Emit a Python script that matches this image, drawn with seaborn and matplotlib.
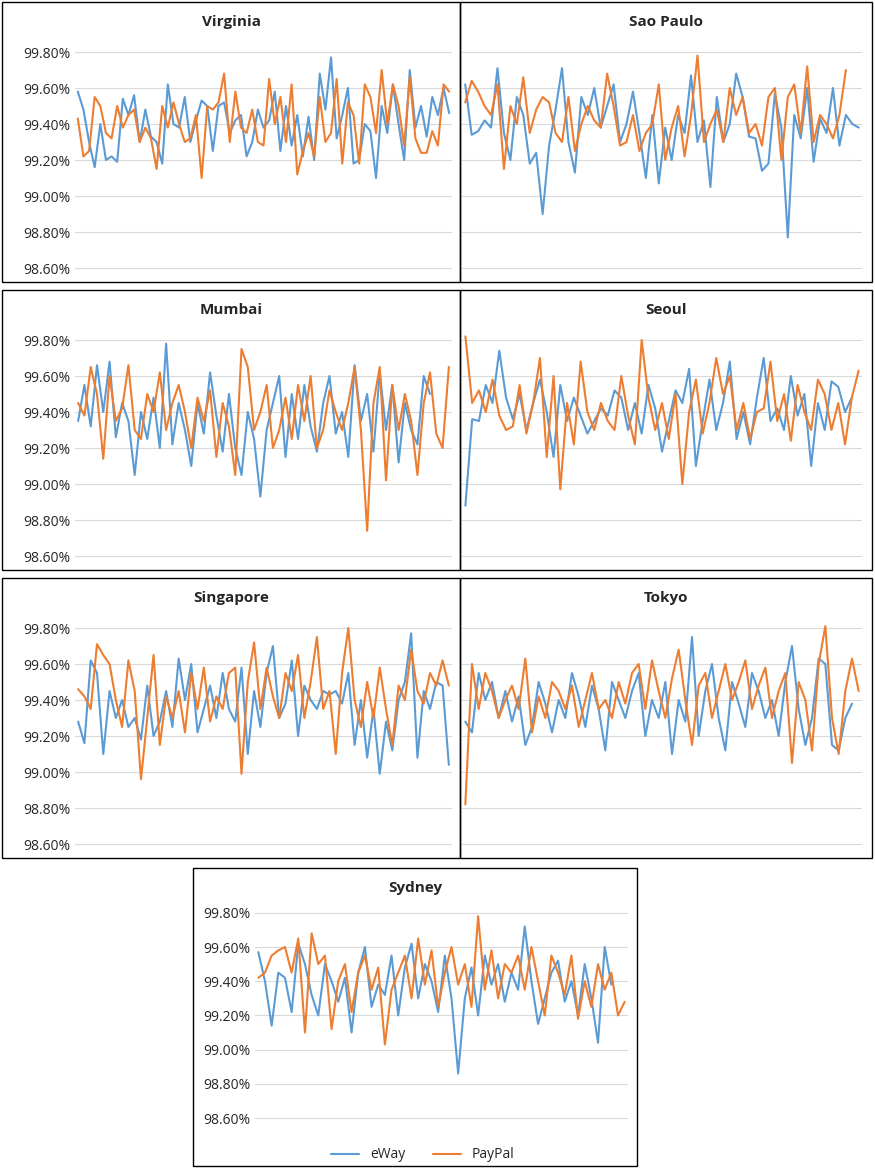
import pandas as pd
import seaborn as sns
import matplotlib.pyplot as plt
from matplotlib.patches import Rectangle
from matplotlib.ticker import FuncFormatter

regions = ["Virginia", "Sao Paulo", "Mumbai", "Seoul", "Singapore", "Tokyo", "Sydney"]
series_names = ["eWay", "PayPal"]
yticks = [98.6, 98.8, 99.0, 99.2, 99.4, 99.6, 99.8]

eway = {
    "Virginia": [99.58, 99.48, 99.30, 99.16, 99.40, 99.20, 99.22, 99.19, 99.54, 99.45, 99.56, 99.30, 99.48, 99.33, 99.30,
                 99.18, 99.62, 99.40, 99.38, 99.55, 99.30, 99.42, 99.53, 99.50, 99.25, 99.50, 99.52, 99.35, 99.42, 99.45,
                 99.22, 99.30, 99.48, 99.38, 99.42, 99.58, 99.25, 99.50, 99.28, 99.45, 99.22, 99.44, 99.20, 99.68, 99.48,
                 99.77, 99.32, 99.45, 99.60, 99.18, 99.20, 99.40, 99.36, 99.10, 99.50, 99.35, 99.62, 99.40, 99.20, 99.70,
                 99.38, 99.50, 99.33, 99.55, 99.45, 99.60, 99.46],
    "Sao Paulo": [99.62, 99.34, 99.36, 99.42, 99.38, 99.71, 99.35, 99.20, 99.55, 99.45, 99.18, 99.24, 98.90, 99.28, 99.48,
                  99.71, 99.30, 99.13, 99.55, 99.45, 99.60, 99.38, 99.50, 99.62, 99.30, 99.40, 99.58, 99.35, 99.10, 99.45,
                  99.07, 99.38, 99.20, 99.45, 99.35, 99.67, 99.30, 99.42, 99.05, 99.55, 99.30, 99.40, 99.68, 99.55, 99.33,
                  99.32, 99.14, 99.18, 99.57, 99.38, 98.77, 99.45, 99.32, 99.60, 99.19, 99.43, 99.35, 99.60, 99.28, 99.45,
                  99.40, 99.38],
    "Mumbai": [99.35, 99.55, 99.32, 99.66, 99.40, 99.68, 99.26, 99.45, 99.35, 99.05, 99.40, 99.25, 99.48, 99.20, 99.78,
               99.22, 99.45, 99.30, 99.10, 99.45, 99.28, 99.62, 99.38, 99.18, 99.50, 99.20, 99.05, 99.40, 99.25, 98.93,
               99.30, 99.45, 99.60, 99.15, 99.50, 99.25, 99.55, 99.32, 99.18, 99.45, 99.60, 99.28, 99.40, 99.15, 99.66,
               99.35, 99.50, 99.18, 99.62, 99.30, 99.55, 99.12, 99.45, 99.30, 99.22, 99.60, 99.50],
    "Seoul": [98.88, 99.36, 99.35, 99.55, 99.45, 99.74, 99.48, 99.36, 99.50, 99.30, 99.45, 99.58, 99.40, 99.15, 99.55,
              99.35, 99.48, 99.38, 99.28, 99.35, 99.42, 99.38, 99.52, 99.48, 99.30, 99.45, 99.28, 99.55, 99.42, 99.18,
              99.35, 99.52, 99.45, 99.64, 99.10, 99.35, 99.58, 99.30, 99.45, 99.68, 99.25, 99.40, 99.22, 99.48, 99.70,
              99.35, 99.42, 99.30, 99.60, 99.38, 99.50, 99.10, 99.45, 99.30, 99.57, 99.54, 99.40, 99.48],
    "Singapore": [99.28, 99.16, 99.62, 99.55, 99.10, 99.45, 99.30, 99.40, 99.25, 99.30, 99.18, 99.48, 99.20, 99.28, 99.45,
                  99.25, 99.63, 99.40, 99.60, 99.22, 99.35, 99.48, 99.30, 99.55, 99.35, 99.28, 99.58, 99.10, 99.45, 99.25,
                  99.55, 99.70, 99.30, 99.38, 99.62, 99.20, 99.48, 99.40, 99.35, 99.45, 99.43, 99.45, 99.38, 99.55, 99.15,
                  99.40, 99.08, 99.35, 98.99, 99.28, 99.12, 99.40, 99.50, 99.77, 99.08, 99.45, 99.35, 99.50, 99.48, 99.04],
    "Tokyo": [99.28, 99.22, 99.55, 99.40, 99.50, 99.30, 99.45, 99.28, 99.42, 99.15, 99.25, 99.50, 99.38, 99.22, 99.40,
              99.30, 99.55, 99.42, 99.25, 99.48, 99.35, 99.12, 99.50, 99.40, 99.30, 99.45, 99.55, 99.20, 99.40, 99.30,
              99.50, 99.10, 99.40, 99.28, 99.75, 99.20, 99.45, 99.60, 99.30, 99.12, 99.50, 99.38, 99.25, 99.55, 99.45,
              99.30, 99.40, 99.20, 99.50, 99.70, 99.35, 99.15, 99.30, 99.63, 99.60, 99.15, 99.12, 99.30, 99.38],
    "Sydney": [99.57, 99.40, 99.14, 99.45, 99.42, 99.22, 99.62, 99.50, 99.32, 99.20, 99.50, 99.40, 99.28, 99.42, 99.10,
               99.45, 99.60, 99.25, 99.38, 99.32, 99.55, 99.20, 99.48, 99.62, 99.30, 99.50, 99.40, 99.22, 99.55, 99.30,
               98.86, 99.30, 99.48, 99.20, 99.55, 99.38, 99.50, 99.28, 99.45, 99.35, 99.72, 99.40, 99.15, 99.30, 99.45,
               99.52, 99.28, 99.40, 99.20, 99.50, 99.30, 99.04, 99.60, 99.38],
}

paypal = {
    "Virginia": [99.43, 99.22, 99.25, 99.55, 99.50, 99.35, 99.32, 99.50, 99.38, 99.45, 99.48, 99.30, 99.38, 99.32, 99.15,
                 99.50, 99.38, 99.52, 99.40, 99.30, 99.32, 99.45, 99.10, 99.50, 99.48, 99.52, 99.68, 99.30, 99.58, 99.38,
                 99.35, 99.48, 99.30, 99.28, 99.65, 99.40, 99.55, 99.30, 99.62, 99.12, 99.25, 99.35, 99.22, 99.55, 99.30,
                 99.35, 99.65, 99.18, 99.52, 99.45, 99.18, 99.62, 99.55, 99.35, 99.70, 99.40, 99.62, 99.50, 99.28, 99.66,
                 99.32, 99.24, 99.24, 99.36, 99.28, 99.62, 99.58],
    "Sao Paulo": [99.52, 99.64, 99.58, 99.50, 99.45, 99.62, 99.15, 99.50, 99.40, 99.66, 99.35, 99.48, 99.55, 99.52, 99.35,
                  99.30, 99.55, 99.25, 99.40, 99.50, 99.42, 99.38, 99.68, 99.50, 99.28, 99.30, 99.45, 99.25, 99.35, 99.40,
                  99.62, 99.20, 99.38, 99.50, 99.22, 99.45, 99.78, 99.30, 99.40, 99.48, 99.30, 99.60, 99.45, 99.55, 99.35,
                  99.40, 99.28, 99.55, 99.60, 99.20, 99.55, 99.62, 99.35, 99.72, 99.30, 99.45, 99.40, 99.32, 99.45, 99.70],
    "Mumbai": [99.45, 99.38, 99.65, 99.50, 99.14, 99.60, 99.35, 99.42, 99.66, 99.30, 99.25, 99.50, 99.40, 99.62, 99.30,
               99.45, 99.55, 99.40, 99.20, 99.48, 99.35, 99.52, 99.15, 99.45, 99.32, 99.05, 99.75, 99.65, 99.30, 99.40,
               99.55, 99.20, 99.30, 99.48, 99.25, 99.55, 99.35, 99.60, 99.20, 99.30, 99.52, 99.40, 99.30, 99.45, 99.65,
               99.30, 98.74, 99.45, 99.65, 99.02, 99.55, 99.30, 99.50, 99.35, 99.05, 99.45, 99.62, 99.28, 99.20, 99.65],
    "Seoul": [99.82, 99.45, 99.52, 99.40, 99.58, 99.38, 99.30, 99.32, 99.55, 99.28, 99.45, 99.70, 99.15, 99.60, 98.97,
              99.45, 99.22, 99.68, 99.40, 99.30, 99.45, 99.35, 99.30, 99.60, 99.38, 99.22, 99.80, 99.48, 99.30, 99.45,
              99.25, 99.50, 99.00, 99.40, 99.58, 99.28, 99.45, 99.70, 99.50, 99.60, 99.30, 99.45, 99.25, 99.40, 99.42,
              99.68, 99.35, 99.50, 99.24, 99.55, 99.40, 99.30, 99.58, 99.50, 99.30, 99.45, 99.22, 99.48, 99.63],
    "Singapore": [99.46, 99.42, 99.35, 99.71, 99.65, 99.60, 99.40, 99.25, 99.62, 99.45, 98.96, 99.30, 99.65, 99.15, 99.42,
                  99.30, 99.45, 99.22, 99.55, 99.35, 99.58, 99.28, 99.42, 99.35, 99.55, 99.58, 98.99, 99.50, 99.72, 99.35,
                  99.58, 99.42, 99.30, 99.55, 99.45, 99.65, 99.30, 99.50, 99.75, 99.35, 99.45, 99.10, 99.55, 99.80, 99.40,
                  99.25, 99.50, 99.30, 99.58, 99.35, 99.15, 99.48, 99.40, 99.68, 99.45, 99.38, 99.55, 99.48, 99.62, 99.48],
    "Tokyo": [98.82, 99.60, 99.35, 99.55, 99.45, 99.30, 99.40, 99.48, 99.35, 99.63, 99.22, 99.42, 99.30, 99.50, 99.45,
              99.35, 99.48, 99.25, 99.40, 99.55, 99.35, 99.40, 99.30, 99.50, 99.38, 99.55, 99.60, 99.35, 99.62, 99.45,
              99.30, 99.52, 99.68, 99.40, 99.15, 99.48, 99.55, 99.30, 99.45, 99.60, 99.40, 99.50, 99.62, 99.35, 99.48,
              99.58, 99.30, 99.45, 99.55, 99.05, 99.50, 99.40, 99.12, 99.60, 99.81, 99.30, 99.10, 99.45, 99.63, 99.45],
    "Sydney": [99.42, 99.45, 99.55, 99.58, 99.60, 99.45, 99.65, 99.10, 99.68, 99.50, 99.55, 99.12, 99.40, 99.50, 99.22,
               99.45, 99.55, 99.35, 99.48, 99.03, 99.35, 99.45, 99.55, 99.30, 99.65, 99.38, 99.58, 99.25, 99.45, 99.60,
               99.38, 99.50, 99.25, 99.78, 99.35, 99.58, 99.30, 99.50, 99.45, 99.55, 99.35, 99.60, 99.40, 99.20, 99.55,
               99.45, 99.32, 99.55, 99.18, 99.40, 99.25, 99.50, 99.35, 99.45, 99.20, 99.28],
}

palette = {"eWay": "#5B9BD5", "PayPal": "#ED7D31"}

rows = []
for reg in regions:
    for name, src in (("eWay", eway), ("PayPal", paypal)):
        for i, v in enumerate(src[reg]):
            rows.append({"region": reg, "series": name, "x": i, "value": v})
df = pd.DataFrame(rows)

sns.set_theme(style="white")
plt.rcParams["font.family"] = ["Open Sans", "DejaVu Sans"]

W, H = 875, 1168
fig = plt.figure(figsize=(W / 100, H / 100), dpi=100)

# (box x0, box y0, box x1, box y1, axes x0, axes x1, y of 98.6, px per 1%, show labels)
layout = {
    "Virginia": (2, 2, 460, 282, 75, 452, 268, 180, True),
    "Sao Paulo": (460, 2, 872, 282, 462, 862, 268, 180, False),
    "Mumbai": (2, 290, 460, 570, 75, 452, 556, 180, True),
    "Seoul": (460, 290, 872, 570, 462, 862, 556, 180, False),
    "Singapore": (2, 578, 460, 858, 75, 452, 844, 180, True),
    "Tokyo": (460, 578, 872, 858, 462, 862, 844, 180, False),
    "Sydney": (193, 868, 637, 1166, 255, 628, 1118, 171, True),
}

for reg in regions:
    bx0, by0, bx1, by1, ax0, ax1, y86, ppp, labels = layout[reg]
    fig.patches.append(Rectangle((bx0 / W, 1 - by1 / H), (bx1 - bx0) / W, (by1 - by0) / H,
                                 transform=fig.transFigure, fill=False, edgecolor="black", lw=1))
    top_px = by0 + 38
    bot_px = y86 + 4
    ax = fig.add_axes([ax0 / W, 1 - bot_px / H, (ax1 - ax0) / W, (bot_px - top_px) / H])
    sub = df[df.region == reg]
    sns.lineplot(data=sub, x="x", y="value", hue="series", palette=palette,
                 hue_order=series_names, lw=1.5, ax=ax, legend=(reg == "Sydney"))
    ax.set_ylim(98.6 - 4 / ppp, 98.6 + (y86 - top_px) / ppp)
    ax.set_xlim(-0.5, sub.x.max() + 0.5)
    ax.set_yticks(yticks)
    ax.yaxis.set_major_formatter(FuncFormatter(lambda v, p: f"{v:.2f}%"))
    ax.grid(axis="y", color="#d9d9d9", lw=0.8)
    ax.set_xticks([])
    ax.set_xlabel("")
    ax.set_ylabel("")
    ax.tick_params(axis="y", length=0, labelsize=10, labelleft=labels)
    for s in ax.spines.values():
        s.set_visible(False)
    fig.text(((bx0 + bx1) / 2) / W, 1 - (by0 + 20) / H, reg, ha="center", va="center",
             fontsize=11, fontweight="bold")
    if reg == "Sydney":
        leg = ax.legend(loc="upper center", bbox_to_anchor=(0.45, -0.06), ncol=2,
                        frameon=False, fontsize=10, handlelength=2)

fig.savefig("out.png", dpi=100)
